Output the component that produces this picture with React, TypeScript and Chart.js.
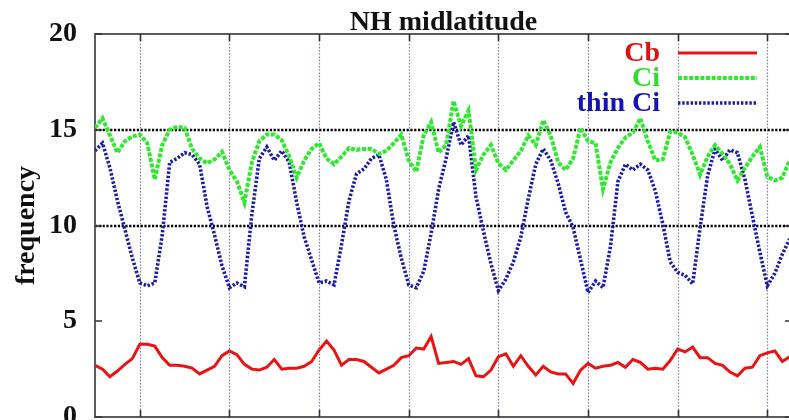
import React, { useEffect, useRef } from 'react';
import { Chart, registerables } from 'chart.js';

Chart.register(...registerables);

const chartTitle = 'NH midlatitude';
const yAxisTitle = 'frequency';
const seriesNames = ['Cb', 'Ci', 'thin Ci'];
const yTicks = [0, 5, 10, 15, 20];
const yearTicks = [6, 18, 30, 42, 54, 66, 78, 90];
const refLines = [10, 15];

const months = [
  0, 1, 2, 3, 4, 5, 6, 7, 8, 9,
  10, 11, 12, 13, 14, 15, 16, 17, 18, 19,
  20, 21, 22, 23, 24, 25, 26, 27, 28, 29,
  30, 31, 32, 33, 34, 35, 36, 37, 38, 39,
  40, 41, 42, 43, 44, 45, 46, 47, 48, 49,
  50, 51, 52, 53, 54, 55, 56, 57, 58, 59,
  60, 61, 62, 63, 64, 65, 66, 67, 68, 69,
  70, 71, 72, 73, 74, 75, 76, 77, 78, 79,
  80, 81, 82, 83, 84, 85, 86, 87, 88, 89,
  90, 91, 92, 93,
];

const cb = [
  2.7, 2.5, 2.1, 2.4, 2.75, 3.05, 3.8, 3.8, 3.7, 3.1,
  2.7, 2.7, 2.65, 2.55, 2.25, 2.45, 2.65, 3.2, 3.45, 3.25,
  2.75, 2.5, 2.45, 2.6, 3.0, 2.5, 2.55, 2.55, 2.65, 2.9,
  3.5, 3.97, 3.5, 2.7, 3.0, 3.0, 2.9, 2.6, 2.3, 2.5,
  2.7, 3.1, 3.2, 3.6, 3.55, 4.2, 2.8, 2.85, 2.9, 2.75,
  3.05, 2.15, 2.1, 2.45, 3.15, 3.3, 2.65, 3.2, 2.65, 2.2,
  2.65, 2.35, 2.25, 2.25, 1.75, 2.45, 2.8, 2.55, 2.65, 2.7,
  2.85, 2.6, 3.0, 2.85, 2.5, 2.55, 2.5, 2.95, 3.55, 3.4,
  3.65, 3.1, 3.1, 2.8, 2.7, 2.35, 2.15, 2.55, 2.6, 3.2,
  3.35, 3.45, 2.9, 3.15,
];

const ci = [
  15.1, 15.6, 14.7, 13.8, 14.4, 14.65, 14.75, 14.3, 12.4, 14.2,
  15.0, 15.15, 15.1, 14.0, 13.5, 13.25, 13.45, 13.85, 12.9, 12.3,
  11.2, 13.3, 14.4, 14.75, 14.75, 14.45, 13.6, 12.5, 13.4, 14.0,
  14.3, 13.5, 13.2, 13.6, 14.05, 13.95, 14.0, 14.0, 13.75, 13.9,
  14.3, 14.75, 13.4, 12.8, 14.7, 15.4, 13.8, 14.2, 16.5, 15.2,
  16.0, 12.9, 13.7, 14.2, 13.25, 12.9, 13.4, 13.9, 14.7, 14.2,
  15.5, 14.7, 13.3, 12.9, 13.5, 15.1, 14.4, 14.3, 11.9, 13.3,
  14.05, 14.6, 14.85, 15.6, 14.4, 13.4, 13.45, 14.9, 14.85, 14.6,
  13.7, 12.65, 13.6, 14.2, 13.75, 13.2, 12.35, 13.0, 13.6, 14.1,
  12.55, 12.35, 12.5, 13.4,
];

const thinCi = [
  13.9, 14.3, 13.0, 11.3, 9.8, 8.3, 7.0, 6.85, 7.0, 9.5,
  13.3, 13.5, 13.8, 13.7, 13.2, 11.0, 9.5, 7.9, 6.75, 7.0,
  6.8, 10.6, 13.5, 14.1, 13.4, 13.9, 13.3, 11.2, 9.4, 8.2,
  7.0, 7.1, 6.9, 9.0, 11.3, 12.7, 12.95, 13.5, 13.7, 12.4,
  10.0, 8.3, 6.9, 6.75, 7.6, 9.6, 11.9, 13.5, 15.4, 14.2,
  14.7, 11.5, 9.7, 8.0, 6.6, 7.2, 8.1, 9.4, 11.4, 13.2,
  14.0, 13.4, 12.2, 10.7, 9.9, 8.2, 6.5, 7.1, 6.75, 8.9,
  12.3, 13.2, 12.9, 13.2, 12.9, 11.8, 10.1, 8.1, 7.55, 7.4,
  6.95, 9.9, 12.6, 14.0, 13.4, 13.95, 13.8, 12.4, 10.5, 8.6,
  6.85, 7.5, 8.5, 9.3,
];

const FONT = "'Liberation Serif', 'Times New Roman', serif";
const lineColors = ['#e81414', '#30e830', '#1c1cac'];
const textColors = ['#dd1111', '#2ede2e', '#1414b4'];
const lineDashes: number[][] = [[], [4, 1.6], [2.4, 1.8]];
const lineWidths = [3, 4, 3.6];

const framePlugin = {
  id: 'frame',
  beforeDatasetsDraw(chart: any) {
    const { ctx, chartArea: a, scales } = chart;
    const x = scales.x;
    const y = scales.y;
    ctx.save();
    // title
    ctx.font = `bold 28px ${FONT}`;
    ctx.fillStyle = '#111';
    ctx.textAlign = 'center';
    ctx.textBaseline = 'alphabetic';
    ctx.fillText(chartTitle, (a.left + a.right) / 2, a.top - 4);
    // vertical dotted grid
    ctx.strokeStyle = '#8383ad';
    ctx.lineWidth = 1.2;
    ctx.setLineDash([1.6, 1.6]);
    yearTicks.forEach((v) => {
      const px = Math.round(x.getPixelForValue(v)) + 0.5;
      ctx.beginPath();
      ctx.moveTo(px, a.top);
      ctx.lineTo(px, a.bottom);
      ctx.stroke();
    });
    // horizontal reference lines
    ctx.strokeStyle = '#000';
    ctx.lineWidth = 2.6;
    ctx.setLineDash([2.2, 1.6]);
    refLines.forEach((v) => {
      const py = Math.round(y.getPixelForValue(v));
      ctx.beginPath();
      ctx.moveTo(a.left, py);
      ctx.lineTo(a.right, py);
      ctx.stroke();
    });
    ctx.setLineDash([]);
    // border
    ctx.strokeStyle = '#5c5c5c';
    ctx.lineWidth = 2;
    ctx.strokeRect(a.left, a.top, a.right - a.left, a.bottom - a.top);
    // inward ticks
    ctx.strokeStyle = '#333';
    ctx.lineWidth = 1.6;
    yearTicks.forEach((v) => {
      const px = Math.round(x.getPixelForValue(v)) + 0.5;
      ctx.beginPath();
      ctx.moveTo(px, a.top);
      ctx.lineTo(px, a.top + 7);
      ctx.moveTo(px, a.bottom);
      ctx.lineTo(px, a.bottom - 7);
      ctx.stroke();
    });
    yTicks.forEach((v) => {
      const py = Math.round(y.getPixelForValue(v));
      ctx.beginPath();
      ctx.moveTo(a.left, py);
      ctx.lineTo(a.left + 7, py);
      ctx.moveTo(a.right, py);
      ctx.lineTo(a.right - 7, py);
      ctx.stroke();
    });
    ctx.restore();
  },
  afterDatasetsDraw(chart: any) {
    const { ctx, chartArea: a } = chart;
    ctx.save();
    ctx.font = `bold 28px ${FONT}`;
    ctx.textAlign = 'right';
    ctx.textBaseline = 'middle';
    chart.data.datasets.forEach((ds: any, i: number) => {
      const cy = a.top + 19 + i * 25;
      ctx.fillStyle = textColors[i];
      ctx.fillText(ds.label, a.right - 132, cy + 1);
      ctx.strokeStyle = ds.borderColor;
      ctx.lineWidth = ds.borderWidth;
      ctx.setLineDash(ds.borderDash || []);
      ctx.beginPath();
      ctx.moveTo(a.right - 114, cy);
      ctx.lineTo(a.right - 35, cy);
      ctx.stroke();
    });
    ctx.restore();
  },
};

export default function App() {
  const ref = useRef<HTMLCanvasElement | null>(null);

  useEffect(() => {
    if (!ref.current) return;
    const series = [cb, ci, thinCi];
    const chart = new Chart(ref.current, {
      type: 'line',
      data: {
        datasets: series.map((vals, i) => ({
          label: seriesNames[i],
          data: vals.map((v, k) => ({ x: months[k], y: v })),
          borderColor: lineColors[i],
          borderWidth: lineWidths[i],
          borderDash: lineDashes[i],
          pointRadius: 0,
          tension: 0,
          fill: false,
        })),
      },
      options: {
        responsive: false,
        maintainAspectRatio: false,
        animation: false,
        devicePixelRatio: 1,
        layout: { padding: { left: 0, right: 8, top: 34, bottom: 3 } },
        plugins: {
          legend: { display: false },
          tooltip: { enabled: false },
          title: { display: false },
        },
        scales: {
          x: { type: 'linear', min: 0, max: 93.3, display: false },
          y: {
            min: 0,
            max: 20,
            afterBuildTicks: (s: any) => {
              s.ticks = yTicks.map((v) => ({ value: v }));
            },
            afterFit: (s: any) => {
              s.width = 95;
              s.paddingTop = 0;
              s.paddingBottom = 0;
            },
            ticks: {
              color: '#111',
              padding: 18,
              font: { family: FONT, size: 28, weight: 'bold', lineHeight: 0.1 },
            },
            grid: { display: false, drawTicks: false },
            border: { display: false },
            title: {
              display: true,
              text: yAxisTitle,
              color: '#111',
              font: { family: FONT, size: 28, weight: 'bold' },
              padding: { top: 10, bottom: 0 },
            },
          },
        },
      },
      plugins: [framePlugin],
    } as any);
    return () => chart.destroy();
  }, []);

  return (
    <div
      style={{
        position: 'fixed',
        left: 0,
        top: 0,
        width: 789,
        height: 420,
        overflow: 'hidden',
        background: '#fff',
      }}
    >
      <canvas ref={ref} width={800} height={420} style={{ display: 'block', width: 800, height: 420 }} />
    </div>
  );
}
